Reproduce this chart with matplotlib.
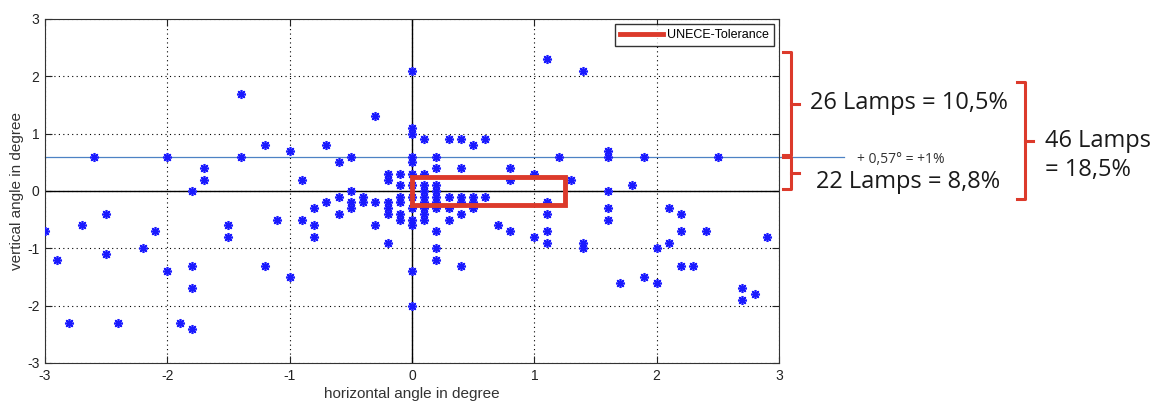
import matplotlib
matplotlib.use("Agg")
import matplotlib.pyplot as plt
from matplotlib.lines import Line2D

plt.rcParams['font.family'] = ['Liberation Sans', 'DejaVu Sans']
plt.rcParams['axes.unicode_minus'] = False

# measured lamp aim deviations (degree)
horiz = [-2.6, -2.0, -1.4, -1.4, -1.2, -1.0, -1.7, -1.7, -1.8, -0.9, -0.7, -0.6, -0.5, -0.3,
         -0.2, -0.2, -0.1, -0.1, 0.0, 0.0, 0.0, 0.0, 0.0, 0.0, 0.0, 0.1, 0.1, 0.1, 0.1,
         0.2, 0.2, 0.2, 0.2, 0.3, 0.4, 0.4, 0.5, 0.6, 0.8, 0.8, 1.0, 1.1, 1.4, 1.2, 1.3,
         1.6, 1.6, 1.6, 1.8, 1.9, 2.5, -0.5,
         -2.5, -2.7, -3.0, -2.1, -2.2, -2.9, -2.5, -2.0, -1.8, -1.8, -1.5, -1.5, -1.1, -1.2,
         -1.0, -0.9, -2.8, -2.4, -1.9, -1.8,
         -0.8, -0.8, -0.8, -0.7, -0.6, -0.6, -0.5, -0.5, -0.4, -0.4, -0.3, -0.3, -0.2, -0.2,
         -0.2, -0.2, -0.1, -0.1, -0.1, -0.1,
         0.0, 0.0, 0.0, 0.0, 0.0, 0.0,
         0.1, 0.1, 0.1, 0.1, 0.1,
         0.2, 0.2, 0.2, 0.2, 0.2, 0.2,
         0.3, 0.3, 0.3,
         0.4, 0.4, 0.4, 0.4,
         0.5, 0.5, 0.5, 0.6,
         0.7, 0.8, 1.0,
         1.1, 1.1, 1.1, 1.1, 1.4, 1.4, 1.6, 1.6,
         1.7, 1.9, 2.0, 2.0, 2.1, 2.1, 2.2, 2.2, 2.2, 2.3, 2.4,
         2.7, 2.7, 2.8, 2.9]
vert = [0.6, 0.6, 1.7, 0.6, 0.8, 0.7, 0.4, 0.2, 0.0, 0.2, 0.8, 0.5, 0.6, 1.3,
        0.3, 0.2, 0.3, 0.1, 2.1, 1.1, 1.0, 0.6, 0.5, 0.3, 0.1, 0.9, 0.3, 0.1, 0.0,
        0.6, 0.4, 0.1, 0.0, 0.9, 0.9, 0.4, 0.8, 0.9, 0.4, 0.2, 0.3, 2.3, 2.1, 0.6, 0.2,
        0.7, 0.6, 0.0, 0.1, 0.6, 0.6, 0.0,
        -0.4, -0.6, -0.7, -0.7, -1.0, -1.2, -1.1, -1.4, -1.3, -1.7, -0.6, -0.8, -0.5, -1.3,
        -1.5, -0.5, -2.3, -2.3, -2.3, -2.4,
        -0.3, -0.6, -0.8, -0.2, -0.1, -0.4, -0.2, -0.3, -0.1, -0.2, -0.2, -0.6, -0.2, -0.3,
        -0.4, -0.9, -0.1, -0.2, -0.4, -0.5,
        -0.1, -0.3, -0.5, -0.6, -1.4, -2.0,
        -0.1, -0.2, -0.3, -0.4, -0.5,
        -0.1, -0.2, -0.3, -0.7, -1.0, -1.2,
        -0.1, -0.3, -0.5,
        -0.1, -0.2, -0.4, -1.3,
        -0.1, -0.2, -0.3, -0.1,
        -0.6, -0.7, -0.8,
        -0.2, -0.4, -0.7, -0.9, -0.9, -1.0, -0.3, -0.5,
        -1.6, -1.5, -1.0, -1.6, -0.3, -0.9, -0.4, -0.7, -1.3, -1.3, -0.7,
        -1.7, -1.9, -1.8, -0.8]

# UNECE tolerance box (degree)
tol_h = [0.0, 1.25]
tol_v = [-0.25, 0.25]
limit_v = 0.6
ticks = [-3, -2, -1, 0, 1, 2, 3]

red = '#dc3a2b'
W, H = 1156, 401

fig = plt.figure(figsize=(W / 100, H / 100), dpi=100)
ax = fig.add_axes([45 / W, 1 - 363 / H, (779 - 45) / W, (363 - 19) / H])

ax.plot(horiz, vert, linestyle='none', marker=(8, 2, 0), ms=6.5, mew=1.2, color='#1a1aff', zorder=3)

rx = [tol_h[0], tol_h[1], tol_h[1], tol_h[0], tol_h[0]]
ry = [tol_v[0], tol_v[0], tol_v[1], tol_v[1], tol_v[0]]
ax.plot(rx, ry, color=red, lw=3.5, solid_joinstyle='miter', label='UNECE-Tolerance', zorder=4)

ax.axhline(0, color='k', lw=1, zorder=2)
ax.axvline(0, color='k', lw=1, zorder=2)
ax.plot([-3, 3.53], [limit_v, limit_v], color='#4d82c4', lw=0.9, clip_on=False, zorder=2)

ax.set_xlim(-3, 3)
ax.set_ylim(-3, 3)
ax.set_xticks(ticks)
ax.set_yticks(ticks)
ax.grid(True, color='k', linestyle=(0, (1, 3)), lw=0.8)
ax.tick_params(direction='in', top=True, right=True, length=5, labelsize=10, colors='#222222', pad=4)
for s in ax.spines.values():
    s.set_color('#333333')
ax.set_xlabel('horizontal angle in degree', fontsize=11, color='#333333', labelpad=3)
ax.set_ylabel('vertical angle in degree', fontsize=11, color='#333333', labelpad=2)

leg = ax.legend(loc='upper right', fancybox=False, edgecolor='k', fontsize=9,
                borderaxespad=0.4, handlelength=3.5, handletextpad=0.3, borderpad=0.4)
leg.get_frame().set_linewidth(1)


def fx(px):
    return px / W


def fy(py):
    return 1 - py / H


def brace(x, y0, y1, hook, tip):
    ym = (y0 + y1) / 2
    fig.add_artist(Line2D([fx(x - hook), fx(x), fx(x), fx(x - hook)],
                          [fy(y0), fy(y0), fy(y1), fy(y1)], color=red, lw=2.2))
    fig.add_artist(Line2D([fx(x), fx(x + tip)], [fy(ym), fy(ym)], color=red, lw=2.2))


brace(791, 52, 155, 8, 8)
brace(791, 157, 189, 8, 8)
brace(1025, 82, 199, 8, 8)

big = dict(family=['Open Sans', 'DejaVu Sans'], fontsize=17, color='#1a1a1a', va='center')
fig.text(fx(909), fy(103), '26 Lamps = 10,5%', ha='center', **big)
fig.text(fx(908), fy(182), '22 Lamps = 8,8%', ha='center', **big)
fig.text(fx(1045), fy(141), '46 Lamps', ha='left', **big)
fig.text(fx(1045), fy(170), '= 18,5%', ha='left', **big)
fig.text(fx(901), fy(159), '+ 0,57° = +1%', ha='center', va='center',
         family=['Open Sans', 'DejaVu Sans'], fontsize=10, color='#333333')

fig.savefig('out.png', dpi=100)
